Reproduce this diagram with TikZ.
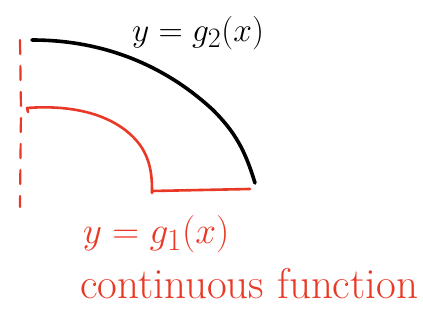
\documentclass[tikz,border=0pt]{standalone}
\usepackage{tikz}
\usetikzlibrary{positioning, calc}
\definecolor{sketchred}{RGB}{234,56,38}

\begin{document}
\begin{tikzpicture}[x=1pt, y=-1pt,
    blackpen/.style={line width=3.6pt, line cap=round, line join=round},
    redpen/.style={line width=2.6pt, sketchred, line cap=round, line join=round},
    axisdash/.style={line width=2.2pt, sketchred, dash pattern=on 14pt off 12pt, line cap=round},
    lbl/.style={inner sep=0pt, font=\fontsize{24.88}{30}\selectfont}
  ]
    \useasboundingbox (0,0) rectangle (423,320);

    % dashed axis
    \draw[axisdash] (20,40) -- (21,110) -- (20,207);

    % outer curve g_2
    \draw[blackpen] (32,40) .. controls (110,40) and (170,70) .. (213,110)
      .. controls (235,132) and (245,150) .. (255,183);

    % inner curve g_1 and base
    \draw[redpen] (28,112) -- (27,108) .. controls (80,104) and (120,118) .. (140,145)
      .. controls (152,162) and (152,180) .. (152,193);
    \draw[redpen] (152,191) -- (250,189);

    % labels
    \node[lbl, scale=1.35] (gtwo) at (198,33) {$y=g_2(x)$};
    \node[lbl, scale=1.5, text=sketchred] (gone) at (156,234) {$y=g_1(x)$};
    \node[lbl, text=sketchred, font=\fontsize{43}{50}\selectfont, anchor=west] (cont) at (80,284)
      {continuous function};
\end{tikzpicture}
\end{document}
